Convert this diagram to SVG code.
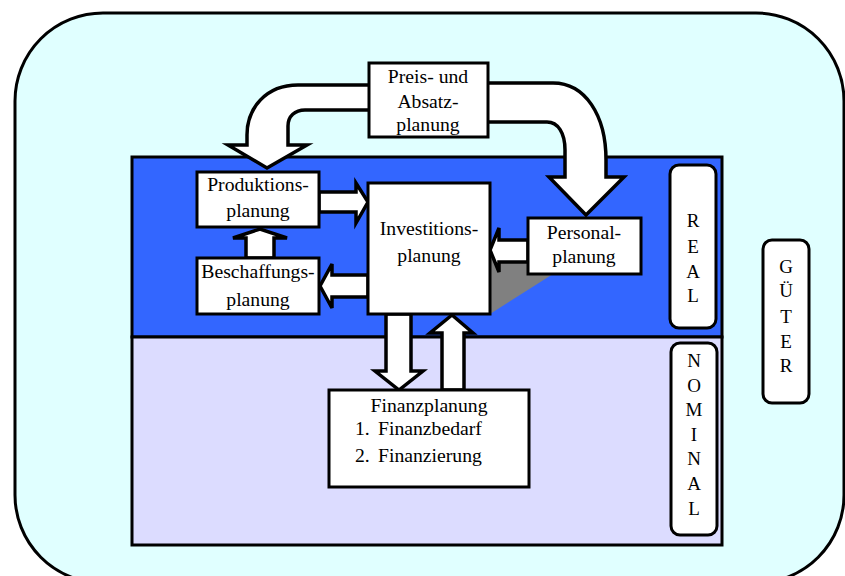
<svg xmlns="http://www.w3.org/2000/svg" width="845" height="576" viewBox="0 0 845 576">
  <style>
    .box { fill: #ffffff; stroke: #000000; stroke-width: 3; }
    .tag { fill: #ffffff; stroke: #000000; stroke-width: 3; }
    .arrow { fill: #ffffff; stroke: #000000; stroke-width: 3.5; stroke-linejoin: miter; }
    text { font-family: "Liberation Serif", "Times New Roman", serif; font-size: 19.7px; fill: #000000; text-anchor: middle; }
    .v { font-size: 19px; }
    .left { text-anchor: start; }
  </style>

  <!-- outer frame -->
  <rect id="frame" x="15" y="13" width="829" height="570" rx="88" ry="88" fill="#e0ffff" stroke="#000000" stroke-width="3"/>

  <!-- real and nominal bands -->
  <rect id="band-real" x="132" y="157" width="590" height="180" fill="#3366ff" stroke="#000000" stroke-width="3"/>
  <rect id="band-nominal" x="132" y="337" width="590" height="208" fill="#dcdcff" stroke="#000000" stroke-width="3"/>

  <!-- shadow beside the investment block -->
  <polygon points="490,250 528,250 528,274 553,274 490,314" fill="#808080"/>

  <!-- connectors -->
  <g id="connectors">
    <!-- Preis -> Produktion -->
    <path class="arrow" d="M369,85 L298,85 C266,85 247,108 247,135 L247,145 L228,145 L267,168 L307,145 L288,145 L288,126 C288,116 295,110 305,110 L369,110"/>
    <!-- Preis -> Personal -->
    <path class="arrow" d="M488,83 L553,83 C585,83 606,115 606,160 L606,177 L624,177 L586,215 L549,177 L565,177 L565,150 C565,133 558,122 547,122 L488,122"/>
    <!-- Produktion -> Investition -->
    <path class="arrow" d="M319,192 L356,192 L356,183 L368,202 L356,223 L356,212 L319,212 Z"/>
    <!-- Investition -> Beschaffung -->
    <path class="arrow" d="M368,275 L332,275 L332,264 L320,286 L332,308 L332,297 L368,297 Z"/>
    <!-- Beschaffung -> Produktion -->
    <path class="arrow" d="M246,258 L246,238 L233,238 L260,229 L287,238 L274,238 L274,258 Z"/>
    <!-- Personal -> Investition -->
    <path class="arrow" d="M528,240 L499,240 L499,228 L490,250 L499,272 L499,262 L528,262 Z"/>
    <!-- Investition -> Finanz -->
    <path class="arrow" d="M386,314 L386,371 L375,371 L399,390 L423,371 L411,371 L411,314 Z"/>
    <!-- Finanz -> Investition -->
    <path class="arrow" d="M442,390 L442,333 L430,333 L452,315 L473,333 L464,333 L464,390 Z"/>
  </g>

  <g id="preis">
    <rect class="box" x="369" y="63" width="119" height="74"/>
    <text x="428" y="83">Preis- und</text>
    <text x="428" y="108">Absatz-</text>
    <text x="428" y="131">planung</text>
  </g>

  <g id="produktion">
    <rect class="box" x="197" y="172" width="122" height="55"/>
    <text x="258" y="191">Produktions-</text>
    <text x="258" y="217">planung</text>
  </g>

  <g id="beschaffung">
    <rect class="box" x="197" y="258" width="122" height="56"/>
    <text x="258" y="278">Beschaffungs-</text>
    <text x="258" y="306">planung</text>
  </g>

  <g id="investition">
    <rect class="box" x="368" y="183" width="122" height="131"/>
    <text x="429" y="235">Investitions-</text>
    <text x="429" y="262">planung</text>
  </g>

  <g id="personal">
    <rect class="box" x="528" y="218" width="113" height="56"/>
    <text x="584" y="239">Personal-</text>
    <text x="584" y="263">planung</text>
  </g>

  <g id="finanz">
    <rect class="box" x="329" y="390" width="200" height="97"/>
    <text x="429" y="412">Finanzplanung</text>
    <text class="left" x="355" y="435">1.</text>
    <text class="left" x="378" y="435">Finanzbedarf</text>
    <text class="left" x="355" y="462">2.</text>
    <text class="left" x="378" y="462">Finanzierung</text>
  </g>

  <g id="real">
    <rect class="tag" x="670" y="165" width="46" height="163" rx="9" ry="9"/>
    <text class="v" x="693" y="227">R</text>
    <text class="v" x="693" y="253">E</text>
    <text class="v" x="693" y="278">A</text>
    <text class="v" x="693" y="302">L</text>
  </g>

  <g id="nominal">
    <rect class="tag" x="671" y="343" width="46" height="192" rx="9" ry="9"/>
    <text class="v" x="694" y="367">N</text>
    <text class="v" x="694" y="392">O</text>
    <text class="v" x="694" y="416">M</text>
    <text class="v" x="694" y="441">I</text>
    <text class="v" x="694" y="465">N</text>
    <text class="v" x="694" y="490">A</text>
    <text class="v" x="694" y="515">L</text>
  </g>

  <g id="gueter">
    <rect class="tag" x="763" y="240" width="46" height="163" rx="9" ry="9"/>
    <text class="v" x="786" y="273">G</text>
    <text class="v" x="786" y="297">Ü</text>
    <text class="v" x="786" y="323">T</text>
    <text class="v" x="786" y="348">E</text>
    <text class="v" x="786" y="372">R</text>
  </g>
</svg>
